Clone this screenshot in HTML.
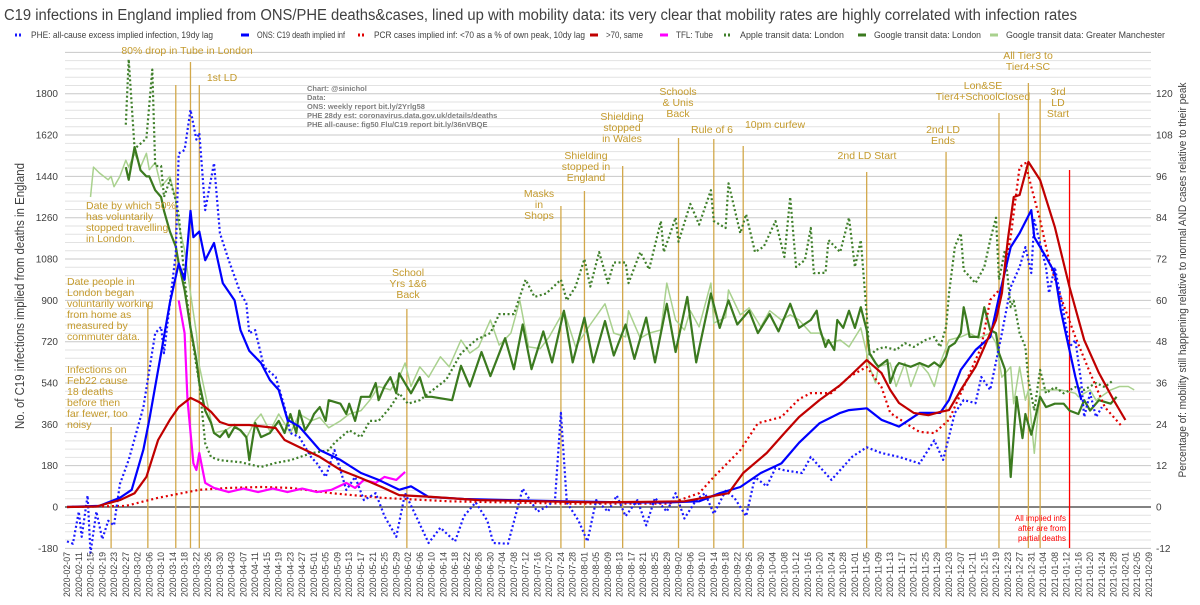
<!DOCTYPE html>
<html><head><meta charset="utf-8"><style>
html,body{margin:0;padding:0;background:#fff;}
svg{display:block;font-family:"Liberation Sans",sans-serif;}
</style></head><body>
<svg id="chart" width="1200" height="605" viewBox="0 0 1200 605" xmlns="http://www.w3.org/2000/svg">
<text x="4" y="20" font-size="15.5" fill="#404040" textLength="1073" lengthAdjust="spacingAndGlyphs">C19 infections in England implied from ONS/PHE deaths&amp;cases, lined up with mobility data: its very clear that mobility rates are highly correlated with infection rates</text>
<g id="legend" font-size="9.5" fill="#404040"></g>
<g id="grid"></g>
<g id="events"></g>
<g id="series"></g>
<g id="axes"></g>
<g id="notes" font-size="10.5" fill="#c49a2c" text-anchor="middle"></g>
<g font-size="7.5" font-weight="bold" fill="#7f7f7f">
<text x="307" y="91">Chart: @sinichol</text>
<text x="307" y="100">Data:</text>
<text x="307" y="109">ONS: weekly report bit.ly/2Yrlg58</text>
<text x="307" y="118">PHE 28dy est: coronavirus.data.gov.uk/details/deaths</text>
<text x="307" y="127">PHE all-cause: fig50 Flu/C19 report bit.ly/36nVBQE</text>
</g>
<g font-size="8" fill="#ff0000" text-anchor="end">
<text x="1066" y="521">All implied infs</text>
<text x="1066" y="531">after are from</text>
<text x="1066" y="541">partial deaths</text>
</g>
<text transform="translate(24,296) rotate(-90)" text-anchor="middle" font-size="12.5" fill="#404040" textLength="266" lengthAdjust="spacingAndGlyphs">No. of C19 infections implied from deaths in England</text>
<text transform="translate(1186,280) rotate(-90)" text-anchor="middle" font-size="11" fill="#404040" textLength="395" lengthAdjust="spacingAndGlyphs">Percentage of: mobility still happening relative to normal AND cases relative to their peak</text>
</svg>
<script>
// ---- data (days since 2020-02-07) ----
const onsDays=[0,11,18,22,26,28,32,35,38,40,42,43,45,47,50,53,57,59,62,66,69,72,75,79,83,86,93,100,106,113,117,123,135,150,170,190,205,215,222,229,236,243,249,256,263,266,272,277,283,290,297,300,304,309,314,317,321,324,328,329,333,336,338,340,343,345];
const onsVals=[0,5,40,75,250,380,670,890,1060,990,1290,1175,1200,1075,1150,975,900,770,680,627,553,510,380,350,292,248,205,148,118,75,90,44,35,30,25,20,20,25,60,87,148,190,280,365,410,422,430,380,350,410,410,466,597,684,740,915,1132,1193,1293,1175,1089,1019,858,740,566,466];
const pheDays=[0,2,4,5,7,8,10,12,14,16,18,21,26,30,32,33,37,38,40,42,44,45,47,50,52,55,59,61,62,64,67,71,74,76,79,83,85,88,91,95,98,101,105,108,112,115,118,123,127,132,135,139,143,145,150,155,160,163,166,168,170,174,177,180,184,187,190,194,197,200,204,207,210,214,217,220,224,227,231,234,238,241,244,250,253,260,267,272,277,283,290,295,298,302,305,309,311,314,318,321,324,326,328,329,333,334,336,339,341,343,345,346,348,350,352];
const pheVals=[-150,-160,-20,-130,50,-200,-20,-140,-60,-80,100,205,435,757,785,670,1106,1540,1555,1730,1600,1630,1293,1498,1193,1075,932,888,757,770,610,566,435,322,305,218,190,131,248,74,131,30,60,-40,-130,60,-20,-157,-90,-150,-40,20,-60,-157,-160,80,-20,0,30,410,20,-60,-150,30,-20,50,-40,30,-80,40,-20,60,-50,30,60,-30,70,40,-40,130,90,170,160,148,218,118,218,260,235,218,190,290,205,410,466,452,566,510,757,958,1045,1132,1019,1250,1045,932,1045,845,697,727,540,392,496,392,435];
const pcrLowDays=[0,20,31,45,55,66,76,90,107,130,170,205,215,220,229,235,243,249,253,260,266,272,277,280,287,290,295,300,305,311,314,318,321,324,326,328,331,334,338,343,348,353,359];
const pcrLowVals=[0,5,40,75,83,87,83,60,40,25,15,15,60,131,248,365,392,470,496,496,566,610,523,410,350,327,322,380,523,697,902,958,1176,1481,1498,1394,1250,1075,915,740,584,435,348];
const pcrHighDays=[0,10,18,23,27,31,35,38,42,45,49,52,55,62,71,74,79,86,93,100,107,113,124,140,180,210,225,230,238,244,249,256,263,266,272,277,280,283,288,293,297,300,304,309,312,316,318,320,322,324,327,331,336,341,346,351,356,360];
const pcrHighVals=[0,2,30,60,131,292,380,435,475,457,414,370,357,357,344,292,261,218,161,126,87,52,44,30,20,25,60,148,235,322,392,466,531,566,640,584,510,453,410,400,414,422,510,610,697,814,932,1163,1350,1359,1503,1424,1220,958,727,584,466,379];
const tflDays=[38,40,41,43,44,45,47,50,55,60,65,70,75,80,85,90,95,98,101,105,108,112,115];
const tflVals=[900,757,466,190,161,235,105,83,65,80,65,80,65,80,65,75,105,83,118,105,131,118,153];
const appleDays=[20,21,23,27,29,30,32,33,35,37,38,40,42,44,45,47,49,52,59,66,71,76,83,89,91,96,100,103,106,110,113,116,120,123,129,134,139,144,147,152,156,159,163,168,170,173,176,178,181,184,186,190,191,195,198,202,203,207,208,212,215,219,220,224,225,229,231,234,237,241,244,246,248,251,253,254,258,259,263,266,268,270,272,273,275,278,282,285,288,292,295,297,299,300,302,304,305,309,312,314,316,317,319,321,322,324,326,327,329,331,333,336,339,343,346,350,353,356];
const appleVals=[111,130,104,107,127,99,99,90,95,89,85,66,52,41,36,18.5,14.5,13.6,13,11.6,12.8,13.6,15.6,16.5,18.6,22.3,20.3,25,25,29,33,30,31,33,37,44.6,48.5,50.5,56,56,66,61,62,66,60,64,72,64,74,65,71,71,65,74,69,83,74,84,77,88,82,92,83,81,94,79.5,85,74,75.6,83,72.6,90,69.7,71.7,81,67.9,68,77.5,74,84,69.7,77.5,56,43.6,45.6,46.5,45.6,47.6,46.5,48.5,49.4,46.5,52.3,62,75.6,79.5,68.8,65,69.7,77.5,84,66,74.6,58,59.9,50.5,46.5,36.9,28,39.8,33,34.8,33,34.8,34,36,34.8,36.9];
const gLonDays=[20,21,23,25,27,28,30,32,33,35,37,38,40,42,44,45,47,49,50,52,54,55,57,59,61,62,64,66,69,72,74,76,78,79,81,83,84,86,88,89,93,95,96,98,100,103,105,106,108,110,112,113,117,120,122,124,131,134,137,141,144,149,152,155,158,162,165,169,172,176,179,183,186,190,193,197,200,204,207,211,214,219,222,225,228,232,235,239,242,246,249,253,255,256,258,259,261,262,264,266,268,270,272,273,275,276,279,280,282,283,287,290,293,295,297,299,300,302,304,305,306,307,310,312,314,316,317,319,321,323,325,326,328,331,333,336,339,341,344,346,348,351,355,357];
const gLonVals=[98.7,95,104.5,97.8,96,96,92,90,86,80,75.6,70.8,63,52,42.7,36,28,24.4,21.5,20.3,22.3,20.3,23.2,22.3,20.3,13.6,24.4,20.3,21.5,25,21.5,27,21.5,28,22.3,25,27,29,25,31,30,27,30,25,32,32,36,31,35,37.7,33,38.8,33,37.7,32,32,31,41,35,45,38,49,40,53,40,51,42,57,42,55,42,54,44,53,43,55,42,59,45,61,42,62,52,60,53,57,50.5,56,51,59,52,54.3,57,52,46.5,48.5,45.6,54.3,52,57,52,58,51.4,44.6,41.8,40.7,42.7,36,40.7,41.8,40.7,41.8,40.7,42,40.7,43.6,46.5,47.6,50.5,58,54.3,49.4,49.4,58,51.4,50.5,44.7,40,8.7,32,20,27,21,32,29,30,30,28,27,31,28,31,30,32];
const gManDays=[8,9,11,14,15,16,18,20,21,23,25,27,28,30,32,33,35,37,38,40,42,44,45,47,49,50,54,57,61,64,66,69,72,76,79,83,86,89,93,96,100,103,106,110,113,115,117,120,123,127,130,134,137,140,144,147,151,154,157,161,164,169,173,178,183,186,190,191,195,198,202,204,207,210,212,215,219,220,224,225,229,232,236,239,243,246,249,253,256,259,263,266,270,272,273,275,276,280,282,285,287,290,293,295,297,300,304,307,310,314,316,318,321,322,324,326,327,329,331,334,338,343,344,348,350,355,358,361,363];
const gManVals=[90,98.7,97,95,96,93,96,100.7,98.7,102.7,98.7,102.7,97.9,100,93,94,96,89,82,74.6,62,50.5,41,33,25,21.5,22.3,24,20,25,27,22,27,21.5,27,25,26,23,25,27,28,31,35,34,37.7,41.8,35,40.7,37.7,43.6,40.7,48.5,44.7,46.5,54.3,47,50.5,60,46.5,46,49.4,57,46.5,53,59,50.5,49.4,57,49,50.5,51.4,65,54.3,51.4,57,52.3,65,53.4,55,63,55.8,57.8,52.3,57,54.3,55.8,54.3,50.5,50.5,47.6,48.5,46.5,52,44.7,40.7,36,40.7,41.8,35,41.8,35,41.8,38.8,35,41.8,48.5,49.4,50.5,49,50.5,47.6,37.7,40.7,30,40.7,31,34,15.6,34,34,34,33,32,34,31,34,35,35,34];
const eventDays=[15,27.5,37,42,45,115.6,168,176,189,208,220,230,272,299,317,327,331,341];
const leftTicks=[-180,0,180,360,540,720,900,1080,1260,1440,1620,1800];
const rightTicks=[-12,0,12,24,36,48,60,72,84,96,108,120];

// ---- scales ----
const X0=67, PXD=2.94;
function xS(d){return X0+PXD*d;}
function yL(v){return 507-v*0.2296;}
function yR(r){return 507-r*3.444;}
const NS="http://www.w3.org/2000/svg";
function mk(tag,parent,attrs){const e=document.createElementNS(NS,tag);for(const k in attrs)e.setAttribute(k,attrs[k]);parent.appendChild(e);return e;}

// grid
const grid=document.getElementById('grid');
for(let v=-180;v<=1980;v+=36){
  const major=(v%180===0);
  const l=mk('line',grid,{x1:65,x2:1151,y1:yL(v),y2:yL(v),stroke:v===0?'#595959':(major?'#c8c8c8':'#e2e2e2'),'stroke-width':v===0?1.5:1});
  
  
}
// axes labels
const axes=document.getElementById('axes');
leftTicks.forEach(v=>{const t=mk('text',axes,{x:58,y:yL(v)+3.5,'text-anchor':'end','font-size':10,fill:'#404040'});t.textContent=v;
  
  });
rightTicks.forEach(r=>{const t=mk('text',axes,{x:1156,y:yR(r)+3.5,'font-size':10,fill:'#404040'});t.textContent=r;
  
  });
const start=Date.UTC(2020,1,7);
for(let d=0;d<=368;d+=4){
  const dt=new Date(start+d*86400000);
  const s=dt.toISOString().slice(0,10);
  const x=xS(d)+3;
  const t=mk('text',axes,{transform:`translate(${x},597) rotate(-90)`,'font-size':9,fill:'#404040',textLength:45,lengthAdjust:'spacingAndGlyphs'});
  t.textContent=s;
  
  
}
// events
const ev=document.getElementById('events');
const evTops=[427,304,85,62,85,309,206,191,166,138,139,146,172,152,113,83,99,170];
eventDays.forEach((d,i)=>{
  const red=(i===eventDays.length-1);
  const l=mk('line',ev,{x1:xS(d),x2:xS(d),y1:evTops[i],y2:548,stroke:red?'#ff0000':'#d2a84a','stroke-width':1.3});
  
  
});
// series
const sg=document.getElementById('series');
function line(days,vals,yf,color,w,dash,name){
  const pts=days.map((d,i)=>xS(d).toFixed(1)+','+yf(vals[i]).toFixed(1)).join(' ');
  const p=mk('polyline',sg,{points:pts,fill:'none',stroke:color,'stroke-width':w,'stroke-linejoin':'round'});
  if(dash)p.setAttribute('stroke-dasharray',dash);
  
  
}
line(gManDays,gManVals,yR,'#a9d18e',1.5,null,'google-manchester-line');
line(appleDays,appleVals,yR,'#3f7f2a',2.2,'2 2.5','apple-london-line');
line(gLonDays,gLonVals,yR,'#3b7a1f',2.2,null,'google-london-line');
line(pcrLowDays,pcrLowVals,yL,'#e00000',2.2,'2 3','pcr-low-line');
line(tflDays,tflVals,yL,'#ff00ff',2.2,null,'tfl-tube-line');
line(pheDays,pheVals,yL,'#1a1aff',2.2,'2 2.5','phe-excess-line');
line(onsDays,onsVals,yL,'#0000ff',2.2,null,'ons-line');
line(pcrHighDays,pcrHighVals,yL,'#c00000',2.2,null,'pcr-high-line');

// legend
const lg=document.getElementById('legend');
const legItems=[
 [15,'PHE: all-cause excess implied infection, 19dy lag','#1a1aff',true],
 [241,'ONS: C19 death implied inf','#0000ff',false],
 [358,'PCR cases implied inf: <70 as a % of own peak, 10dy lag','#e00000',true],
 [590,'>70, same','#c00000',false],
 [660,'TFL: Tube','#ff00ff',false],
 [724,'Apple transit data: London','#3f7f2a',true],
 [858,'Google transit data: London','#3b7a1f',false],
 [990,'Google transit data:  Greater Manchester','#a9d18e',false]];
const legEnds=[213,345,585,643,713,844,981,1165];
legItems.forEach((it,i)=>{
  const m=mk('line',lg,{x1:it[0],x2:it[0]+8,y1:35,y2:35,stroke:it[2],'stroke-width':3});
  if(it[3])m.setAttribute('stroke-dasharray','2 2');
  
  
  const tx=it[0]+16;
  const t=mk('text',lg,{x:tx,y:38,textLength:legEnds[i]-tx,lengthAdjust:'spacingAndGlyphs'});
  t.textContent=it[1];
  
  
});

// annotations
const notes=document.getElementById('notes');
function note(x,y,lines,anchor){
  lines.forEach((s,i)=>{const t=mk('text',notes,{x:x,y:y+i*11});if(anchor)t.setAttribute('text-anchor',anchor);t.textContent=s;
    
    });
}
note(187,54,['80% drop in Tube in London']);
note(222,81,['1st LD']);
note(86,209,['Date by which 50%','has voluntarily','stopped travelling','in London.'],'start');
note(67,285,['Date people in','London began','voluntarily working','from home as','measured by','commuter data.'],'start');
note(67,373,['Infections on','Feb22 cause','18 deaths','before then','far fewer, too','noisy'],'start');
note(408,276,['School','Yrs 1&6','Back']);
note(539,197,['Masks','in','Shops']);
note(586,159,['Shielding','stopped in','England']);
note(622,120,['Shielding','stopped','in Wales']);
note(678,95,['Schools','& Unis','Back']);
note(712,133,['Rule of 6']);
note(775,128,['10pm curfew']);
note(867,159,['2nd LD Start']);
note(943,133,['2nd LD','Ends']);
note(983,89,['Lon&SE','Tier4+SchoolClosed']);
note(1028,59,['All Tier3 to','Tier4+SC']);
note(1058,95,['3rd','LD','Start']);
</script>
</body></html>
